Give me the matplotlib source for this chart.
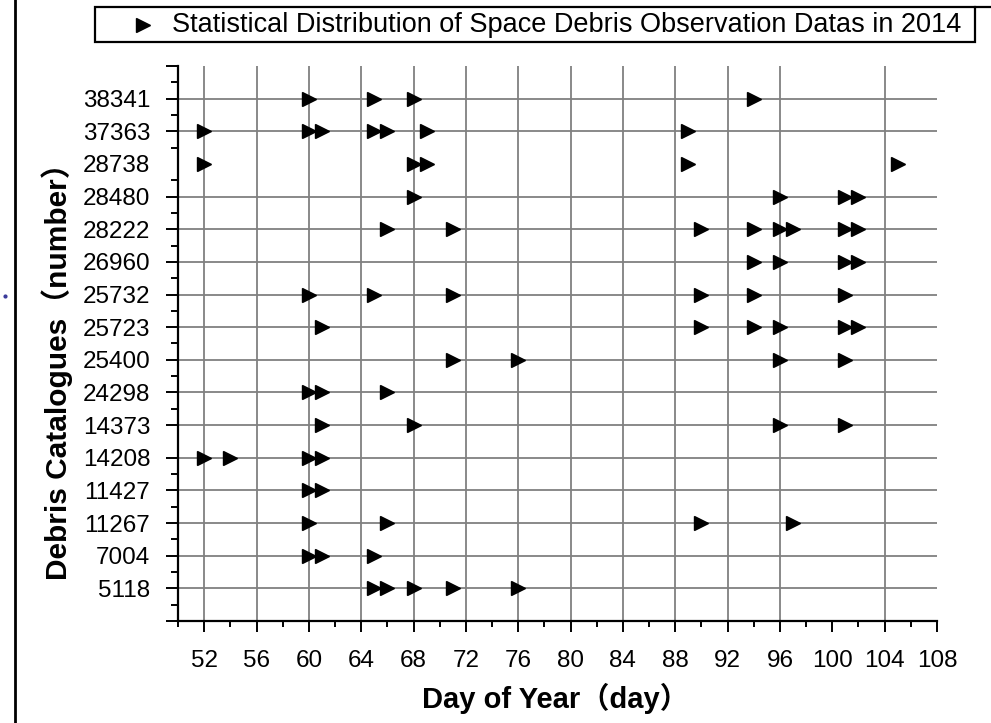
import matplotlib
matplotlib.use("Agg")
import matplotlib.pyplot as plt
from matplotlib.lines import Line2D
from matplotlib.patches import Rectangle

plt.rcParams["font.family"] = ["Liberation Sans", "Noto Sans CJK SC", "DejaVu Sans"]

# catalogue numbers, bottom to top
catalogues = ["5118", "7004", "11267", "11427", "14208", "14373", "24298", "25400",
              "25723", "25732", "26960", "28222", "28480", "28738", "37363", "38341"]

# observation days (day of year) for each catalogue
days_5118 = [65, 66, 68, 71, 76]
days_7004 = [60, 61, 65]
days_11267 = [60, 66, 90, 97]
days_11427 = [60, 61]
days_14208 = [52, 54, 60, 61]
days_14373 = [61, 68, 96, 101]
days_24298 = [60, 61, 66]
days_25400 = [71, 76, 96, 101]
days_25723 = [61, 90, 94, 96, 101, 102]
days_25732 = [60, 65, 71, 90, 94, 101]
days_26960 = [94, 96, 101, 102]
days_28222 = [66, 71, 90, 94, 96, 97, 101, 102]
days_28480 = [68, 96, 101, 102]
days_28738 = [52, 68, 69, 89, 105]
days_37363 = [52, 60, 61, 65, 66, 69, 89]
days_38341 = [60, 65, 68, 94]

all_days = [days_5118, days_7004, days_11267, days_11427, days_14208, days_14373,
            days_24298, days_25400, days_25723, days_25732, days_26960, days_28222,
            days_28480, days_28738, days_37363, days_38341]

x_ticks = list(range(52, 109, 4))
legend_text = "Statistical Distribution of Space Debris Observation Datas in 2014"

fig = plt.figure(figsize=(9.91, 7.23), dpi=100)
ax = fig.add_axes([178 / 991, 1 - 621 / 723, (937 - 178) / 991, (621 - 66) / 723])

grid_color = "#808080"
# grid lines (the original skips 100 and 108 vertically and the 28738 row)
for d in x_ticks:
    if d not in (100, 108):
        ax.axvline(d, color=grid_color, lw=1.3, zorder=1)
for i, name in enumerate(catalogues):
    if name != "28738":
        ax.axhline(i + 1, color=grid_color, lw=1.3, zorder=1)

for i, days in enumerate(all_days):
    ax.plot(days, [i + 1] * len(days), linestyle="none", marker=">",
            color="black", markersize=10.5, zorder=3)

ax.set_xlim(50, 108)
ax.set_ylim(0, 17)

ax.set_xticks(x_ticks)
ax.set_xticks(list(range(50, 108, 4)), minor=True)
ax.set_xticklabels([str(d) for d in x_ticks], fontsize=17.5)

y_major = [0] + [i + 1 for i in range(len(catalogues))] + [len(catalogues) + 1]
ax.set_yticks(y_major)
ax.set_yticklabels([""] + catalogues + [""], fontsize=17.5)
ax.set_yticks([i + 0.5 for i in range(len(catalogues) + 1) if i != 5], minor=True)
# no tick mark at 28738
ax.yaxis.get_major_ticks()[catalogues.index("28738") + 1].tick1line.set_visible(False)

for s in ("top", "right"):
    ax.spines[s].set_visible(False)
for s in ("left", "bottom"):
    ax.spines[s].set_linewidth(1.6)

ax.tick_params(axis="y", which="major", length=9, width=1.4, pad=11, direction="out")
ax.tick_params(axis="y", which="minor", length=4.8, width=1.4, direction="out")
ax.tick_params(axis="x", which="major", length=8, width=1.4, pad=13, direction="out")
ax.tick_params(axis="x", which="minor", length=4, width=1.4, direction="out")

ax.set_xlabel("Day of Year（day）", fontsize=21, fontweight="bold", labelpad=8, x=0.497)
ax.set_ylabel("Debris Catalogues（number）", fontsize=21.5, fontweight="bold", labelpad=7, y=0.462)

# legend box drawn at the top
W, H = 991.0, 723.0
fig.patches.append(Rectangle((95 / W, 1 - 42 / H), (975 - 95) / W, 35 / H,
                             transform=fig.transFigure, fill=False, edgecolor="black", lw=1.6))
fig.add_artist(Line2D([975 / W, 1.0], [1 - 7 / H, 1 - 7 / H], transform=fig.transFigure,
                      color="black", lw=1.6))
fig.add_artist(Line2D([143 / W], [1 - 25 / H], transform=fig.transFigure, marker=">",
                      color="black", markersize=10, linestyle="none"))
fig.text(172 / W, 1 - 25 / H, legend_text, fontsize=19.5, va="center", ha="left")

# frame line on the left edge and the stray dot
fig.add_artist(Line2D([15 / W, 15 / W], [0, 1], transform=fig.transFigure, color="black", lw=2))
fig.add_artist(Line2D([5 / W], [1 - 296 / H], transform=fig.transFigure, marker="o",
                      color="#3a3a9a", markersize=2, linestyle="none"))

fig.savefig("out.png", dpi=100)
